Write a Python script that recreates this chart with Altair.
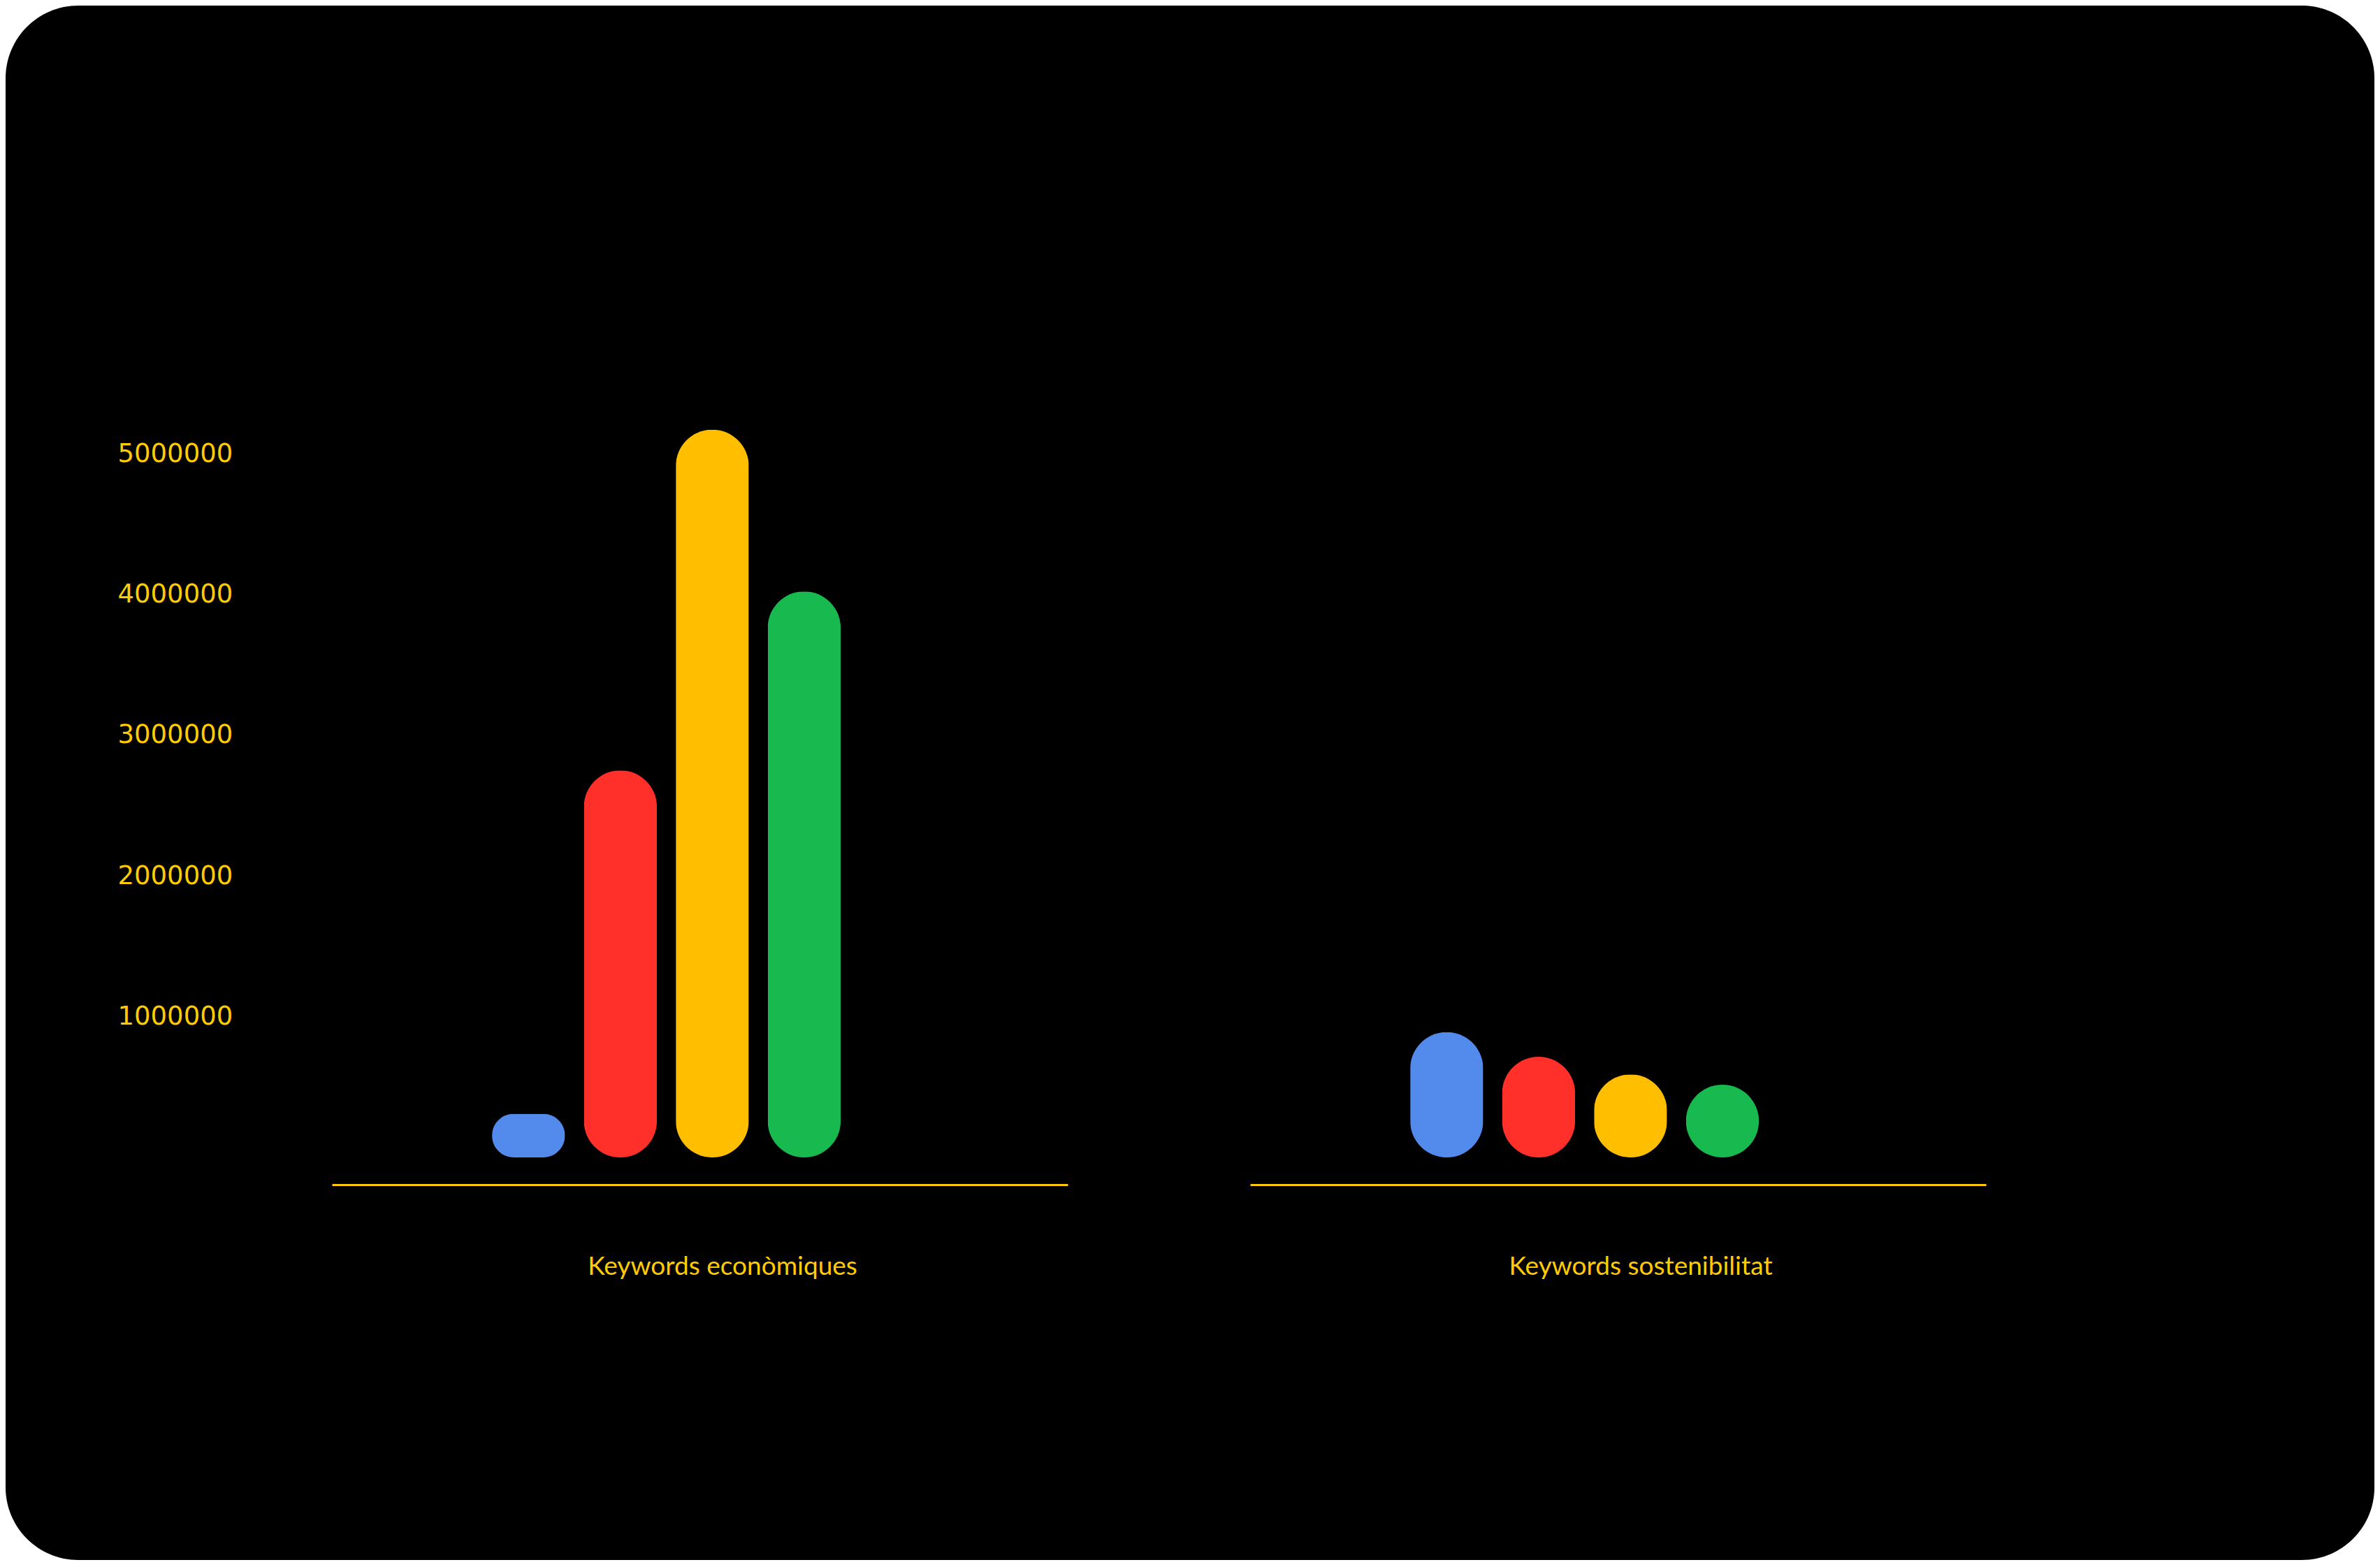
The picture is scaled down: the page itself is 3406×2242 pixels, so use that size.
import altair as alt
import pandas as pd

# ---- data ----
groups = ["Keywords econòmiques", "Keywords sostenibilitat"]
series = ["s1", "s2", "s3", "s4"]
econ_values = [310000, 2750000, 5170000, 4020000]
sost_values = [890000, 715000, 590000, 516000]
tick_values = [1000000, 2000000, 3000000, 4000000, 5000000]
series_colors = ["#528BEC", "#FF3029", "#FFBE00", "#18BA4F"]

rows = []
for g, vals in zip(groups, [econ_values, sost_values]):
    for s, v in zip(series, vals):
        rows.append({"group": g, "series": s, "value": v})
df = pd.DataFrame(rows)
base_df = pd.DataFrame({"group": groups})

# ---- layout ----
W, H = 3390, 2224
zero_px, top_px = 1648, 641          # plot-pixel rows of 0 and 5 000 000
unit = (zero_px - top_px) / 5000000  # pixels per unit
y_max = zero_px / unit
y_min = -(H - zero_px) / unit
yellow_text = "#FFCB05"
yellow_line = "#FFC60B"

y_scale = alt.Scale(domain=[y_min, y_max], nice=False)
x_scale = alt.Scale(paddingInner=0.198, paddingOuter=0.3889, align=0.457)

bars = alt.Chart(df).mark_bar(cornerRadius=52).encode(
    x=alt.X("group:N", sort=groups, scale=x_scale,
            axis=alt.Axis(title=None, domain=False, ticks=False, tickSize=0,
                          labelPadding=0, offset=-(H - 1815),
                          labelBaseline="alphabetic", labelAngle=0,
                          labelFont="Lato", labelFontSize=37,
                          labelColor=yellow_text, labelLimit=2000,
                          labelOffset=32)),
    xOffset=alt.XOffset("series:N", sort=series,
                        scale=alt.Scale(range=[229, 728], paddingInner=0.206,
                                        paddingOuter=0)),
    y=alt.Y("value:Q", scale=y_scale,
            axis=alt.Axis(title=None, grid=False, domain=False, ticks=False,
                          tickSize=0, labelPadding=0, offset=-160,
                          values=tick_values, format="d",
                          labelAlign="left", labelBaseline="middle",
                          labelFont="DejaVu Sans", labelFontSize=37,
                          labelColor=yellow_text, labelLimit=2000)),
    color=alt.Color("series:N", sort=series,
                    scale=alt.Scale(domain=series, range=series_colors),
                    legend=None),
)

lines = alt.Chart(base_df).mark_tick(size=1053, thickness=3, color=yellow_line,
                                     opacity=1).encode(
    x=alt.X("group:N", sort=groups),
    y=alt.datum(-196000),
)

chart = alt.layer(bars, lines).properties(
    width=W, height=H, padding=0, background="white"
).configure_view(fill="black", cornerRadius=104, strokeWidth=0)

chart.save("out.html", embed_options={"renderer": "svg", "actions": False})
